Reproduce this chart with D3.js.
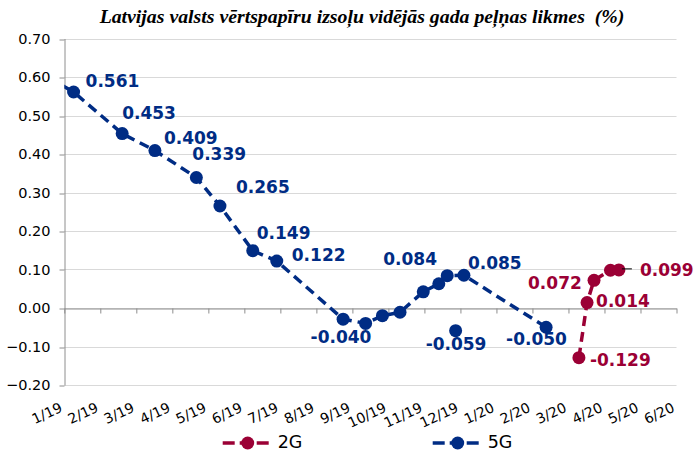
<!DOCTYPE html>
<html>
<head>
<meta charset="utf-8">
<script src="https://cdn.jsdelivr.net/npm/d3@7"></script>
<style>
  body { margin: 0; background: #fff; }
  svg { display: block; }
</style>
</head>
<body>
<svg id="chart" width="700" height="452"></svg>
<script>
// ---- data ----
const TITLE = 'Latvijas valsts vērtspapīru izsoļu vidējās gada peļņas likmes  (%)';

const monthLabels = ['1/19', '2/19', '3/19', '4/19', '5/19', '6/19', '7/19', '8/19', '9/19',
    '10/19', '11/19', '12/19', '1/20', '2/20', '3/20', '4/20', '5/20', '6/20'];

const yTicks = [-0.2, -0.1, 0, 0.1, 0.2, 0.3, 0.4, 0.5, 0.6, 0.7];

// 5 year auctions (first point is the Dec-2018 auction, falls outside the axis)
const g5Dates = ['2018-12-19', '2019-01-09', '2019-02-18', '2019-03-17', '2019-04-21', '2019-05-11',
    '2019-06-08', '2019-06-28', '2019-08-24', '2019-09-12', '2019-09-26', '2019-10-11',
    '2019-10-31', '2019-11-13', '2019-11-20', '2019-12-04', '2020-02-12'];
const g5Values = [0.598, 0.561, 0.453, 0.409, 0.339, 0.265, 0.149, 0.122, -0.029, -0.040, -0.020, -0.011,
    0.042, 0.063, 0.084, 0.085, -0.050];
const g5Labels = [null, '0.561', '0.453', '0.409', '0.339', '0.265', '0.149', '0.122', null, '-0.040', null, null,
    null, null, '0.084', '0.085', '-0.050'];

// 5 year auction shown without a connecting line
const g5LooseDates = ['2019-11-27'];
const g5LooseValues = [-0.059];
const g5LooseLabels = ['-0.059'];

// 2 year auctions
const g2Dates = ['2020-03-10', '2020-03-17', '2020-03-23', '2020-04-06', '2020-04-13'];
const g2Values = [-0.129, 0.014, 0.072, 0.098, 0.099];
const g2Labels = ['-0.129', '0.014', '0.072', null, '0.099'];

// ---- layout / style ----
const X0 = 64.3, X1 = 676.5, Y_TOP = 38.5, Y_BOTTOM = 385;
const COLOR_5G = '#002c84';
const COLOR_2G = '#9b0035';
const GRID = '#d9d9d9';
const AXIS = '#8e8e8e';
const DASH = '10,6';

// label nudges (dx, dy of text start / vertical centre relative to the marker)
const g5Nudges = [null, [12, -11], [0, -21], [9, -13], [-4, -24], [16, -19], [4, -18], [15, -6], null, [-55, 13],
    null, null, null, null, [-64, -17], [4, -12], [-40, 12]];
const g5LooseNudges = [[-30, 13]];
const g2Nudges = [[11, 2], [9, -2], [-66, 3], null, [21, 0]];

const monthPos = s => {
    const [y, m, d] = s.split('-').map(Number);
    const days = new Date(y, m, 0).getDate();
    return (y - 2019) * 12 + (m - 1) + (d - 1) / days;
};

const toPoints = (dates, values, labels, nudges) =>
    dates.map((d, i) => ({ t: monthPos(d), v: values[i], label: labels[i], nudge: nudges[i] }));

const createScales = () => {
    const xScale = d3.scaleLinear().domain([0, monthLabels.length - 1]).range([X0, X1]);
    const yScale = d3.scaleLinear().domain([-0.2, 0.7]).range([Y_BOTTOM, Y_TOP]);
    return { xScale, yScale };
};

const svg = d3.select('#chart');
const { xScale, yScale } = createScales();

// title
svg.append('text')
    .attr('x', 362)
    .attr('y', 23)
    .attr('text-anchor', 'middle')
    .attr('font-family', '"Liberation Serif", "Times New Roman", serif')
    .attr('font-weight', 'bold')
    .attr('font-style', 'italic')
    .attr('font-size', 19.8)
    .attr('fill', '#000')
    .style('white-space', 'pre')
    .text(TITLE);

// gridlines
svg.append('g')
    .selectAll('line')
    .data(yTicks)
    .enter()
    .append('line')
    .attr('x1', X0)
    .attr('x2', X1)
    .attr('y1', d => Math.round(yScale(d)) + 0.5)
    .attr('y2', d => Math.round(yScale(d)) + 0.5)
    .attr('stroke', GRID)
    .attr('stroke-width', 1);

const renderAxes = () => {
    const yAxis = d3.axisLeft(yScale)
        .tickValues(yTicks)
        .tickSize(5)
        .tickSizeOuter(0)
        .tickPadding(9)
        .tickFormat(d3.format('.2f'));

    const gy = svg.append('g')
        .attr('transform', `translate(${Math.round(X0) + 0.5},0)`)
        .call(yAxis);
    gy.selectAll('path, line').attr('stroke', AXIS);
    gy.selectAll('line').attr('transform', d => `translate(0,${Math.round(yScale(d)) + 0.5 - yScale(d)})`);
    gy.selectAll('text')
        .attr('font-family', '"DejaVu Sans", Verdana, sans-serif')
        .attr('font-size', 14.5)
        .attr('fill', '#000');

    // zero line with month ticks
    const xAxis = d3.axisBottom(xScale)
        .tickValues(d3.range(monthLabels.length))
        .tickSize(5)
        .tickSizeOuter(0)
        .tickFormat('');
    const gx = svg.append('g')
        .attr('transform', `translate(0,${Math.round(yScale(0)) + 0.5})`)
        .call(xAxis);
    gx.selectAll('path, line').attr('stroke', AXIS);

    // month labels along the bottom
    svg.append('g')
        .selectAll('text')
        .data(monthLabels)
        .enter()
        .append('text')
        .attr('transform', (d, i) => `translate(${xScale(i) - 1},${Y_BOTTOM + 26}) rotate(-25)`)
        .attr('text-anchor', 'end')
        .attr('font-family', '"DejaVu Sans", Verdana, sans-serif')
        .attr('font-size', 14)
        .attr('fill', '#000')
        .text(d => d);
};

const line = d3.line()
    .x(d => xScale(d.t))
    .y(d => yScale(d.v));

svg.append('clipPath')
    .attr('id', 'plot-clip')
    .append('rect')
    .attr('x', X0)
    .attr('y', 0)
    .attr('width', 700 - X0)
    .attr('height', 452);

const renderSeries = (points, loose, color) => {
    const g = svg.append('g').attr('clip-path', 'url(#plot-clip)');

    g.append('path')
        .attr('d', line(points))
        .attr('fill', 'none')
        .attr('stroke', color)
        .attr('stroke-width', 3.5)
        .attr('stroke-dasharray', DASH);

    g.selectAll('circle')
        .data(points.concat(loose))
        .enter()
        .append('circle')
        .attr('cx', d => xScale(d.t))
        .attr('cy', d => yScale(d.v))
        .attr('r', 6.5)
        .attr('fill', color);
};

const renderLabels = (points, color) => {
    const labelled = points.filter(d => d.label);
    svg.append('g')
        .selectAll('text')
        .data(labelled)
        .enter()
        .append('text')
        .attr('x', d => xScale(d.t) + d.nudge[0])
        .attr('y', d => yScale(d.v) + d.nudge[1])
        .attr('dy', '0.36em')
        .attr('font-family', '"DejaVu Sans", Verdana, sans-serif')
        .attr('font-weight', 'bold')
        .attr('font-size', 17)
        .attr('fill', color)
        .text(d => d.label);
};

renderAxes();

const g5Points = toPoints(g5Dates, g5Values, g5Labels, g5Nudges);
const g5Loose = toPoints(g5LooseDates, g5LooseValues, g5LooseLabels, g5LooseNudges);
const g2Points = toPoints(g2Dates, g2Values, g2Labels, g2Nudges);

renderSeries(g5Points, g5Loose, COLOR_5G);
renderSeries(g2Points, [], COLOR_2G);

// leader line for the last 2G label
const last2 = g2Points[g2Points.length - 1];
svg.append('line')
    .attr('x1', xScale(last2.t) + 3)
    .attr('x2', xScale(last2.t) + last2.nudge[0] - 8)
    .attr('y1', yScale(last2.v) - 1)
    .attr('y2', yScale(last2.v) - 1)
    .attr('stroke', '#000')
    .attr('stroke-width', 1);

renderLabels(g5Points.concat(g5Loose), COLOR_5G);
renderLabels(g2Points, COLOR_2G);

// legend
const legendItems = [
    { name: '2G', color: COLOR_2G, x: 222.7 },
    { name: '5G', color: COLOR_5G, x: 432.7 }
];
const legend = svg.append('g')
    .selectAll('g')
    .data(legendItems)
    .enter()
    .append('g')
    .attr('transform', d => `translate(${d.x},443)`);
legend.append('line')
    .attr('x1', 0)
    .attr('x2', 46)
    .attr('stroke', d => d.color)
    .attr('stroke-width', 3.5)
    .attr('stroke-dasharray', '12,5');
legend.append('circle')
    .attr('cx', 25)
    .attr('r', 6.5)
    .attr('fill', d => d.color);
legend.append('text')
    .attr('x', 55)
    .attr('y', -1.5)
    .attr('dy', '0.35em')
    .attr('font-family', '"DejaVu Sans", Verdana, sans-serif')
    .attr('font-size', 17.5)
    .attr('fill', '#000')
    .text(d => d.name);
</script>
</body>
</html>
